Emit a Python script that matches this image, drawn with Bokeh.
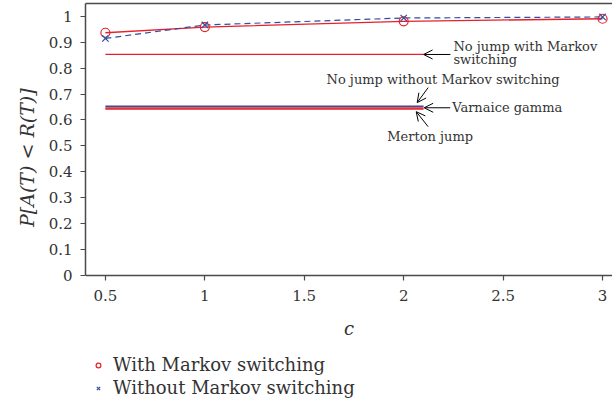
from bokeh.plotting import figure
from bokeh.models import (Range1d, FixedTicker, LinearAxis, Legend, LegendItem,
                          Arrow, OpenHead, Label)
from bokeh.embed import file_html
from bokeh.resources import INLINE

# ---- data ----
c_vals = [0.5, 1.0, 2.0, 3.0]
with_markov = [0.937, 0.959, 0.981, 0.991]
without_markov = [0.915, 0.967, 0.994, 0.998]

# constant benchmark levels (drawn as horizontal segments from c=0.5 to c=2.1)
seg_x = [0.5, 2.1]
no_jump_with_markov = 0.853
no_jump_without_markov = 0.653
varnaice_gamma = 0.646
merton_jump = 0.642

x_ticks = [0.5, 1, 1.5, 2, 2.5, 3]
x_tick_labels = ["0.5", "1", "1.5", "2", "2.5", "3"]
y_ticks = [0, 0.1, 0.2, 0.3, 0.4, 0.5, 0.6, 0.7, 0.8, 0.9, 1.0]
y_tick_labels = ["0", "0.1", "0.2", "0.3", "0.4", "0.5", "0.6", "0.7", "0.8", "0.9", "1"]

RED = "#e8202a"
BLUE = "#2f4f9f"
AXIS = "#4a4a4a"
TXT = "#333333"
FONT = "DejaVu Serif"

Y_TOP = 1.05
p = figure(width=612, height=402, output_backend="svg", toolbar_location=None,
           x_range=Range1d(0.4, 3.05), y_range=Range1d(-0.492, Y_TOP),
           min_border_left=85, min_border_right=0, min_border_top=3,
           min_border_bottom=0, x_axis_location=None)
p.outline_line_color = None
p.grid.visible = False
p.background_fill_color = "white"

# lines
p.line(c_vals, with_markov, color=RED, line_width=1.3)
p.line(c_vals, without_markov, color=BLUE, line_width=1.2, line_dash="6 4")
r_circ = p.scatter(c_vals, with_markov, marker="circle", size=9, fill_color=None,
                   line_color=RED, line_width=1.2)
r_x = p.scatter(c_vals, without_markov, marker="x", size=9, line_color=BLUE, line_width=1.2)

p.line(seg_x, [no_jump_with_markov] * 2, color=RED, line_width=1.2)
p.line(seg_x, [no_jump_without_markov] * 2, color=BLUE, line_width=1.5)
p.line(seg_x, [varnaice_gamma] * 2, color=RED, line_width=1.5)
p.line(seg_x, [merton_jump] * 2, color=RED, line_width=1.5)

# x axis drawn at y = 0 inside the (extended) frame
xaxis = LinearAxis(fixed_location=0)
p.add_layout(xaxis, "below")

for ax in (xaxis, p.yaxis[0]):
    ax.axis_line_color = AXIS
    ax.axis_line_width = 1.5
    ax.major_tick_line_color = AXIS
    ax.major_tick_line_width = 1.2
    ax.major_tick_in = 0
    ax.major_tick_out = 5
    ax.minor_tick_line_color = None
    ax.major_label_text_font = FONT
    ax.major_label_text_font_size = "15px"
    ax.major_label_text_color = TXT
    ax.axis_label_text_font = FONT
    ax.axis_label_text_font_style = "italic"
    ax.axis_label_text_color = TXT

xaxis.ticker = FixedTicker(ticks=x_ticks)
xaxis.major_label_overrides = dict(zip(x_ticks, x_tick_labels))
xaxis.axis_label = "c"
xaxis.axis_label_text_font_size = "18px"
xaxis.axis_label_standoff = 13
xaxis.major_label_standoff = 10

p.yaxis.ticker = FixedTicker(ticks=y_ticks)
p.yaxis.bounds = (0, Y_TOP)
p.yaxis.major_label_overrides = dict(zip(y_ticks, y_tick_labels))
# leading no-break spaces keep the visible label centred on the 0..1 span, as in the reference
p.yaxis.axis_label = "\u00a0" * 15 + "P[A(T) < R(T)]"
p.yaxis.axis_label_text_font_size = "19px"
p.yaxis.axis_label_standoff = 8
p.yaxis.major_label_standoff = 8

top = LinearAxis(axis_line_color=AXIS, axis_line_width=1.5, major_tick_line_color=None,
                 minor_tick_line_color=None, major_label_text_font_size="0px",
                 ticker=FixedTicker(ticks=[]))
p.add_layout(top, "above")

# annotations
ann_font = dict(text_font=FONT, text_font_size="13px", text_color=TXT)
arrows = [
    ((2.235, 0.853), (2.10, 0.853)),
    ((2.123, 0.725), (2.068, 0.667)),
    ((2.234, 0.647), (2.103, 0.647)),
    ((2.123, 0.574), (2.063, 0.632)),
]
for (xs, ys), (xe, ye) in arrows:
    p.add_layout(Arrow(x_start=xs, y_start=ys, x_end=xe, y_end=ye, line_color="black",
                       line_width=1, end=OpenHead(size=9, line_color="black", line_width=1)))

labels = [
    ("No jump with Markov", 2.25, 0.884, "left"),
    ("switching", 2.25, 0.834, "left"),
    ("No jump without Markov switching", 2.198, 0.757, "center"),
    ("Varnaice gamma", 2.244, 0.647, "left"),
    ("Merton jump", 2.133, 0.535, "center"),
]
for t, x, y, al in labels:
    p.add_layout(Label(x=x, y=y, text=t, text_align=al, text_baseline="middle", **ann_font))

legend = Legend(items=[LegendItem(label="With Markov switching", renderers=[r_circ]),
                       LegendItem(label="Without Markov switching", renderers=[r_x])],
                location=(7, 3), orientation="vertical",
                border_line_color=None, background_fill_alpha=0,
                label_text_font=FONT, label_text_font_size="18px", label_text_color=TXT,
                glyph_width=12, glyph_height=12, label_standoff=9, spacing=0,
                padding=0, margin=0, label_height=23)
p.add_layout(legend, "center")

open("out.html", "w").write(file_html(p, INLINE))
